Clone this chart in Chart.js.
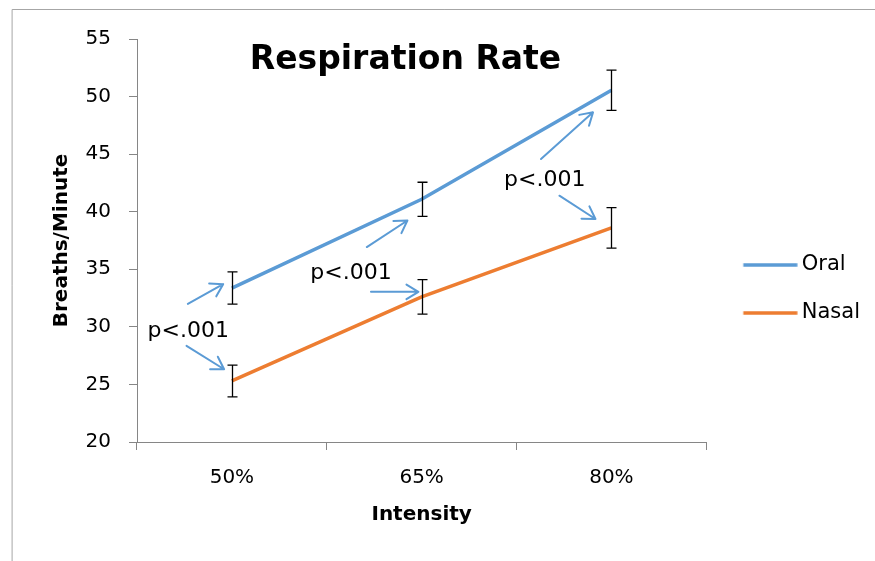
<!DOCTYPE html>
<html>
<head>
<meta charset="utf-8">
<script src="https://cdn.jsdelivr.net/npm/chart.js@4/dist/chart.umd.min.js"></script>
<style>
  html, body { margin: 0; padding: 0; background: #fff; }
  #wrap { width: 875px; height: 561px; position: relative; }
</style>
</head>
<body>
<div id="wrap"><canvas id="c" width="875" height="561"></canvas></div>
<script>
// ---- data ----
const categories = ['50%', '65%', '80%'];
const oral = [33.37, 41.08, 50.55];
const nasal = [25.3, 32.6, 38.6];
const oralErr = [1.4, 1.48, 1.75];
const nasalErr = [1.38, 1.5, 1.76];
const yTickValues = [20, 25, 30, 35, 40, 45, 50, 55];
const chartTitle = 'Respiration Rate';
const xTitle = 'Intensity';
const yTitle = 'Breaths/Minute';
// significance labels (x = category index, y = value)
const pLabelText = ['p<.001', 'p<.001', 'p<.001'];
const pLabelX = [-0.23, 0.628, 1.649];
const pLabelY = [29.65, 34.67, 42.71];
// arrows: from (x0,y0) to (x1,y1) in category-index / value space
const arrowX0 = [-0.232, -0.239, 0.711, 0.733, 1.629, 1.726];
const arrowY0 = [32.0, 28.35, 36.93, 33.04, 44.58, 41.39];
const arrowX1 = [-0.046, -0.041, 0.925, 0.983, 1.903, 1.916];
const arrowY1 = [33.71, 26.32, 39.24, 33.04, 48.63, 39.37];

const BLUE = '#5B9BD5';
const ORANGE = '#ED7D31';
const AXIS = '#868686';
const FONT = "'DejaVu Sans', sans-serif";

Chart.defaults.font.family = FONT;
Chart.defaults.color = '#000';

function legendLineImage(color) {
  const c = document.createElement('canvas');
  c.width = 71; c.height = 8;
  const g = c.getContext('2d');
  g.strokeStyle = color; g.lineWidth = 3.5; g.lineCap = 'butt';
  g.beginPath(); g.moveTo(16.5, 4); g.lineTo(70.5, 4); g.stroke();
  return c;
}

const errorBars = {
  id: 'errorBars',
  afterDatasetsDraw(chart) {
    const ctx = chart.ctx, y = chart.scales.y;
    const errs = [oralErr, nasalErr];
    ctx.save();
    ctx.strokeStyle = '#000'; ctx.lineWidth = 1.3;
    chart.data.datasets.forEach((ds, di) => {
      const meta = chart.getDatasetMeta(di);
      meta.data.forEach((pt, i) => {
        const v = ds.data[i], e = errs[di][i];
        const top = y.getPixelForValue(v + e), bot = y.getPixelForValue(v - e);
        const x = Math.round(pt.x) + 0.5;
        ctx.beginPath();
        ctx.moveTo(x, top); ctx.lineTo(x, bot);
        ctx.moveTo(x - 5, top); ctx.lineTo(x + 5, top);
        ctx.moveTo(x - 5, bot); ctx.lineTo(x + 5, bot);
        ctx.stroke();
      });
    });
    ctx.restore();
  }
};

const annotations = {
  id: 'annotations',
  afterDraw(chart) {
    const ctx = chart.ctx, xs = chart.scales.x, ys = chart.scales.y;
    ctx.save();
    // arrows
    ctx.strokeStyle = BLUE; ctx.lineWidth = 2; ctx.lineCap = 'round'; ctx.lineJoin = 'round';
    for (let i = 0; i < arrowX0.length; i++) {
      const x0 = xs.getPixelForValue(arrowX0[i]), y0 = ys.getPixelForValue(arrowY0[i]);
      const x1 = xs.getPixelForValue(arrowX1[i]), y1 = ys.getPixelForValue(arrowY1[i]);
      const a = Math.atan2(y1 - y0, x1 - x0), L = 14, h = 0.55;
      ctx.beginPath();
      ctx.moveTo(x0, y0); ctx.lineTo(x1, y1);
      ctx.moveTo(x1 - L * Math.cos(a - h), y1 - L * Math.sin(a - h));
      ctx.lineTo(x1, y1);
      ctx.lineTo(x1 - L * Math.cos(a + h), y1 - L * Math.sin(a + h));
      ctx.stroke();
    }
    // p labels
    ctx.fillStyle = '#000'; ctx.font = '22px ' + FONT;
    ctx.textAlign = 'center'; ctx.textBaseline = 'middle';
    for (let i = 0; i < pLabelText.length; i++) {
      ctx.fillText(pLabelText[i], xs.getPixelForValue(pLabelX[i]), ys.getPixelForValue(pLabelY[i]));
    }
    // chart title
    ctx.font = 'bold 33px ' + FONT;
    ctx.textBaseline = 'alphabetic';
    ctx.fillText(chartTitle, 405.5, 69);
    // outer frame
    ctx.strokeStyle = '#A6A6A6'; ctx.lineWidth = 1;
    ctx.strokeRect(12.5, 9.5, 1000, 1000);
    ctx.restore();
  }
};

new Chart(document.getElementById('c'), {
  type: 'line',
  data: {
    labels: categories,
    datasets: [
      { label: 'Oral', data: oral, borderColor: BLUE, backgroundColor: BLUE, borderWidth: 3.5, pointRadius: 0, tension: 0 },
      { label: 'Nasal', data: nasal, borderColor: ORANGE, backgroundColor: ORANGE, borderWidth: 3.5, pointRadius: 0, tension: 0 }
    ]
  },
  options: {
    responsive: false,
    animation: false,
    devicePixelRatio: 1,
    layout: { padding: { top: 39, left: 0, right: 5, bottom: 22 } },
    plugins: {
      title: { display: false },
      tooltip: { enabled: false },
      legend: {
        display: true,
        position: 'right',
        align: 'center',
        labels: {
          font: { size: 21, family: FONT },
          color: '#000',
          padding: 27,
          usePointStyle: true,
          pointStyleWidth: 58,
          generateLabels(chart) {
            const items = Chart.defaults.plugins.legend.labels.generateLabels(chart);
            items.forEach((it, i) => { it.pointStyle = legendLineImage(chart.data.datasets[i].borderColor); });
            return items;
          }
        }
      }
    },
    scales: {
      x: {
        type: 'category',
        offset: true,
        afterFit(s) { s.height = 97; },
        grid: { display: true, drawOnChartArea: false, drawTicks: true, tickLength: 8, color: AXIS, offset: true },
        border: { display: true, color: AXIS, width: 1 },
        ticks: { font: { size: 20 }, color: '#000', padding: 16, maxRotation: 0 },
        title: { display: true, text: xTitle, font: { size: 20, weight: 'bold' }, color: '#000', padding: { top: 0, bottom: 12 } }
      },
      y: {
        min: 20, max: 55,
        afterFit(s) { s.width = 137; },
        afterBuildTicks(s) { s.ticks = yTickValues.map(v => ({ value: v })); },
        grid: { display: true, drawOnChartArea: false, drawTicks: true, tickLength: 8, color: AXIS },
        border: { display: true, color: AXIS, width: 1 },
        ticks: { font: { size: 20 }, color: '#000', padding: 18 },
        title: { display: true, text: yTitle, font: { size: 20, weight: 'bold' }, color: '#000', padding: { top: 50, bottom: 0 } }
      }
    }
  },
  plugins: [errorBars, annotations]
});
</script>
</body>
</html>
